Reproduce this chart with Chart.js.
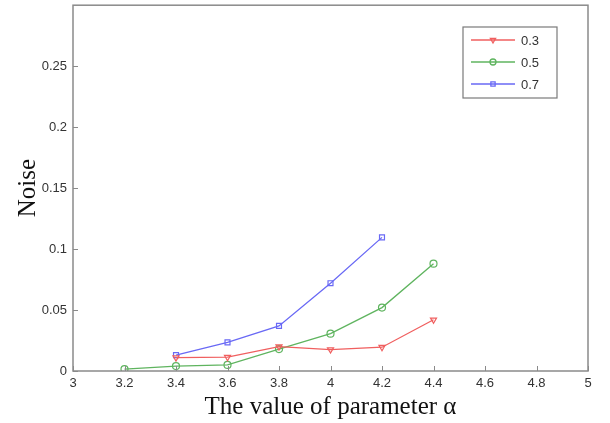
<!DOCTYPE html>
<html>
<head>
<meta charset="utf-8">
<script src="https://cdn.jsdelivr.net/npm/chart.js@4.4.0/dist/chart.umd.min.js"></script>
<style>
  html, body { margin: 0; padding: 0; background: #fff; }
  #wrap { width: 610px; height: 423px; position: relative; }
</style>
</head>
<body>
<div id="wrap"><canvas id="c"></canvas></div>
<script>
// ---- data ----
const alphaValues = [3.2, 3.4, 3.6, 3.8, 4.0, 4.2, 4.4];
const seriesLabels = ['0.3', '0.5', '0.7'];
const noise03 = [null, 0.011, 0.0113, 0.020, 0.0176, 0.0195, 0.042];
const noise05 = [0.0016, 0.004, 0.005, 0.018, 0.0306, 0.052, 0.088];
const noise07 = [null, 0.013, 0.0235, 0.037, 0.072, 0.1096, null];
const xTicks = [3, 3.2, 3.4, 3.6, 3.8, 4, 4.2, 4.4, 4.6, 4.8, 5];
const yTicks = [0, 0.05, 0.1, 0.15, 0.2, 0.25];

const colors = ['rgb(240,95,95)', 'rgb(95,180,95)', 'rgb(105,105,245)'];
const markers = ['triangle', 'circle', 'rect'];

function toPoints(vals) {
  return alphaValues.map((x, i) => ({ x: x, y: vals[i] })).filter(p => p.y !== null);
}

const datasets = [noise03, noise05, noise07].map((vals, i) => ({
  label: seriesLabels[i],
  data: toPoints(vals),
  borderColor: colors[i],
  backgroundColor: 'rgba(255,255,255,0)',
  borderWidth: 1.3,
  pointStyle: markers[i],
  pointRotation: i === 0 ? 180 : 0,
  pointRadius: 3.5,
  pointBorderWidth: 1.2,
  pointBorderColor: colors[i],
  tension: 0,
  fill: false
}));

// frame, inward ticks and legend box, MATLAB style
const matlabFrame = {
  id: 'matlabFrame',
  afterDraw(chart) {
    const { ctx, chartArea: a, scales } = chart;
    ctx.save();
    ctx.strokeStyle = '#8a8a8a';
    ctx.lineWidth = 1.5;
    ctx.strokeRect(a.left, a.top, a.right - a.left, a.bottom - a.top);
    ctx.lineWidth = 1;
    xTicks.forEach(v => {
      const px = Math.round(scales.x.getPixelForValue(v)) + 0.5;
      ctx.beginPath(); ctx.moveTo(px, a.bottom); ctx.lineTo(px, a.bottom - 5); ctx.stroke();
    });
    yTicks.forEach(v => {
      const py = Math.round(scales.y.getPixelForValue(v)) + 0.5;
      ctx.beginPath(); ctx.moveTo(a.left, py); ctx.lineTo(a.left + 5, py); ctx.stroke();
    });

    // legend
    const bx = 463, by = 27, bw = 94, bh = 71;
    ctx.fillStyle = '#fff';
    ctx.fillRect(bx, by, bw, bh);
    ctx.strokeStyle = '#7a7a7a';
    ctx.lineWidth = 1.2;
    ctx.strokeRect(bx, by, bw, bh);
    chart.data.datasets.forEach((ds, i) => {
      const y = by + 13 + i * 22;
      ctx.strokeStyle = ds.borderColor;
      ctx.lineWidth = 1.3;
      ctx.beginPath(); ctx.moveTo(bx + 8, y); ctx.lineTo(bx + 52, y); ctx.stroke();
      ctx.fillStyle = 'rgba(0,0,0,0)';
      Chart.helpers.drawPoint(ctx, {
        pointStyle: ds.pointStyle, rotation: ds.pointRotation, radius: 3, borderWidth: 1.2
      }, bx + 30, y);
      ctx.fillStyle = '#333';
      ctx.font = '13px "Liberation Sans", Arial, sans-serif';
      ctx.textBaseline = 'middle';
      ctx.fillText(ds.label, bx + 58, y + 1);
    });
    ctx.restore();
  }
};

new Chart(document.getElementById('c'), {
  type: 'line',
  data: { datasets: datasets },
  plugins: [matlabFrame],
  options: {
    responsive: true, maintainAspectRatio: false, animation: false,
    layout: { padding: { top: 0, right: 22, left: 0, bottom: 0 } },
    plugins: { legend: { display: false }, tooltip: { enabled: false } },
    scales: {
      x: {
        type: 'linear', min: 3, max: 5,
        afterBuildTicks: s => { s.ticks = xTicks.map(v => ({ value: v })); },
        afterFit: s => { s.height = 52; s.paddingLeft = 0; s.paddingRight = 0; },
        grid: { display: false, drawTicks: false },
        border: { display: false },
        ticks: {
          color: '#333', padding: 5,
          font: { family: '"Liberation Sans", Arial, sans-serif', size: 13 },
          maxRotation: 0, autoSkip: false,
          callback: v => String(+v.toFixed(1))
        },
        title: {
          display: true, text: 'The value of parameter α', color: '#111', padding: { top: 0, bottom: 1 },
          font: { family: '"Liberation Serif", "Times New Roman", serif', size: 25 }
        }
      },
      y: {
        min: 0, max: 0.3,
        afterBuildTicks: s => { s.ticks = yTicks.map(v => ({ value: v })); },
        afterFit: s => { s.width = 73; s.paddingTop = 0; s.paddingBottom = 0; },
        grid: { display: false, drawTicks: false },
        border: { display: false },
        ticks: {
          color: '#333', padding: 6,
          font: { family: '"Liberation Sans", Arial, sans-serif', size: 13 },
          callback: v => String(+v.toFixed(2))
        },
        title: {
          display: true, text: 'Noise', color: '#111', padding: { top: 13, bottom: 0 },
          font: { family: '"Liberation Serif", "Times New Roman", serif', size: 25 }
        }
      }
    }
  }
});
</script>
</body>
</html>
